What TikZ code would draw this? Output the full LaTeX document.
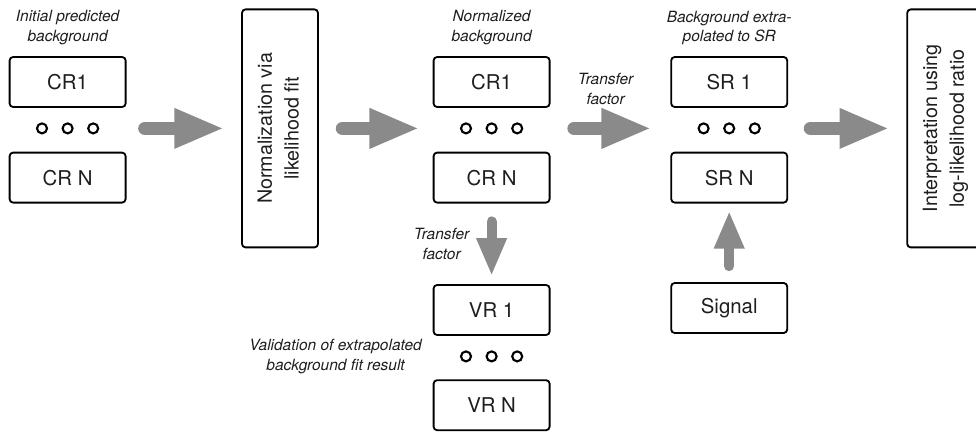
\documentclass[tikz,border=0pt]{standalone}
\usepackage{fontspec}
\usepackage{graphicx}
\setmainfont{TeX Gyre Heros}
\usetikzlibrary{arrows.meta}
\definecolor{arrowgray}{RGB}{138,138,138}
\definecolor{inkgray}{RGB}{30,30,30}
\newcommand{\uptext}[1]{\rotatebox{90}{\begin{tabular}{@{}c@{}}#1\end{tabular}}}
\tikzset{
    box/.style={rectangle, draw=black, line width=1.3pt, rounded corners=2.5pt,
        minimum width=2.9cm, minimum height=1.25cm, text=inkgray,
        font=\fontsize{14.5}{17}\selectfont},
    tallbox/.style={rectangle, draw=black, line width=1.3pt, rounded corners=2.5pt,
        minimum width=1.9cm, minimum height=5.95cm, inner sep=0pt,
        text=inkgray, font=\fontsize{14}{19}\selectfont},
    dot/.style={circle, draw=black, line width=1.5pt, fill=white, inner sep=0pt,
        minimum size=0.25cm},
    lbl/.style={align=center, text=inkgray, font=\fontsize{11}{14.2}\selectfont\itshape},
    bigarrow/.style={draw=arrowgray, line width=9.6pt, line cap=round,
        -{Triangle[width=0.92cm, length=1.25cm]}},
    smallarrow/.style={draw=arrowgray, line width=7.2pt, line cap=round,
        -{Triangle[width=0.7cm, length=0.95cm]}}
}
\begin{document}
\begin{tikzpicture}
    \clip (0,0) rectangle (24.4,-10.8);
    % Place nodes
    \node [box] (cr1a) at (1.69,-2.05) {CR1};
    \node [box, below of=cr1a, node distance=2.39cm] (crna) {CR N};
    \node [box, right of=cr1a, node distance=10.6cm] (cr1b) {CR1};
    \node [box, below of=cr1b, node distance=2.39cm] (crnb) {CR N};
    \node [box, right of=cr1b, node distance=5.94cm] (sr1) {SR 1};
    \node [box, below of=sr1, node distance=2.39cm] (srn) {SR N};
    \node [box, below of=crnb, node distance=3.31cm] (vr1) {VR 1};
    \node [box, below of=vr1, node distance=2.38cm] (vrn) {VR N};
    \node [box, below of=srn, node distance=3.26cm] (signal) {Signal};
    % dots between first and last region
    \foreach \col in {cr1a,cr1b,sr1,vr1} {
        \node [dot, below of=\col, node distance=1.16cm] (\col-d) {};
        \node [dot, left of=\col-d, node distance=0.64cm] (\col-l) {};
        \node [dot, right of=\col-d, node distance=0.64cm] (\col-r) {};
    }
    \node [tallbox, right of=cr1a-d, node distance=5.31cm] (norm) {\uptext{Normalization via\\likelihood fit}};
    \node [tallbox, right of=sr1-d, node distance=5.4cm] (interp) {\uptext{Interpretation using\\log-likelihood ratio}};
    % labels
    \node [lbl, above of=cr1a, node distance=1.35cm] (initlbl) {Initial predicted\\background};
    \node [lbl, above of=cr1b, node distance=1.35cm] (normlbl) {Normalized\\background};
    \node [lbl, above of=sr1, node distance=1.35cm] (extralbl) {Background extra-\\polated to SR};
    \node [lbl, left of=vr1-d, node distance=3.9cm] (vallbl) {Validation of extrapolated\\background fit result};
    % Draw edges
    \path [bigarrow, shorten <=0.46cm, shorten >=0.42cm] (cr1a.east |- norm) -- (norm);
    \path [bigarrow, shorten <=0.59cm, shorten >=0.33cm] (norm) -- (cr1b.west |- norm);
    \path [bigarrow, shorten <=0.59cm, shorten >=0.47cm] (cr1b.east |- norm) -- node [lbl, xshift=-0.12cm, yshift=0.98cm] (tfa) {Transfer\\factor} (sr1.west |- norm);
    \path [bigarrow, shorten <=0.56cm, shorten >=0.42cm] (sr1.east |- interp) -- (interp);
    \path [smallarrow, shorten <=0.45cm, shorten >=0.2cm] (crnb) -- node [lbl, xshift=-1.25cm] (tfb) {Transfer\\factor} (vr1);
    \path [smallarrow, shorten <=0.4cm, shorten >=0.18cm] (signal) -- (srn);
\end{tikzpicture}
\end{document}
